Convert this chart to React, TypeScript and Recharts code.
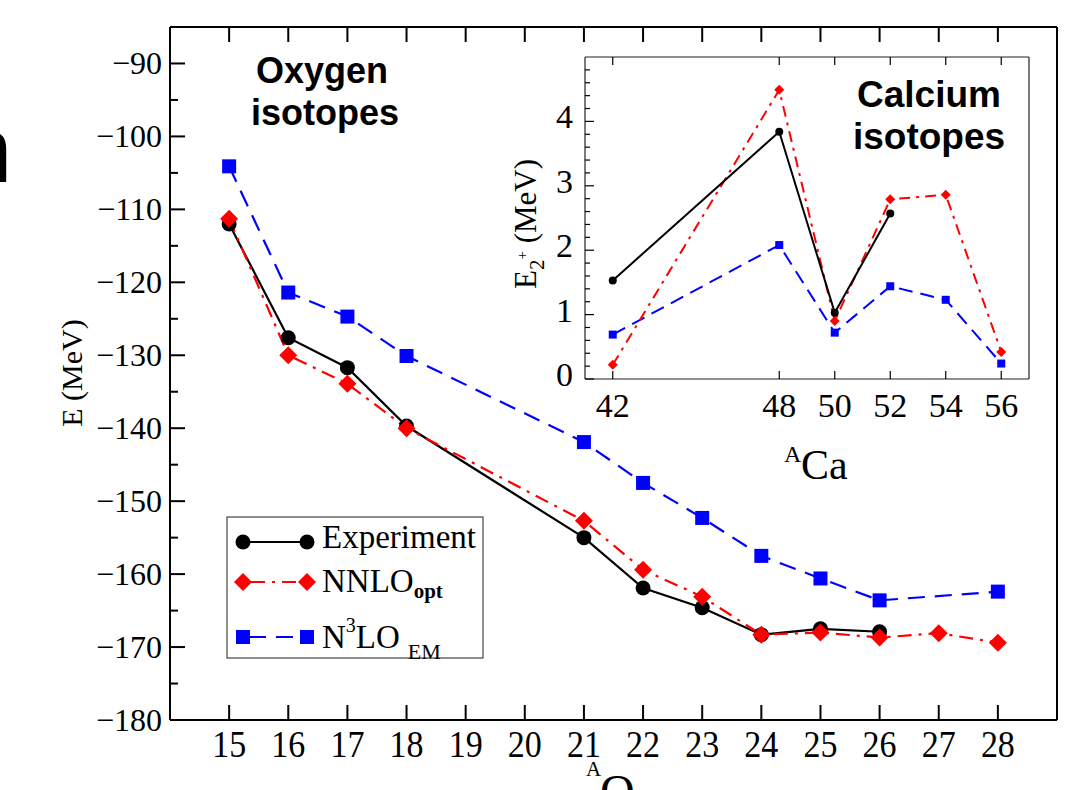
import React from "react";
import { LineChart, Line, XAxis, YAxis } from "recharts";

// ---- oxygen isotopes (main panel), binding energy in MeV ----
const oxygenA = [15, 16, 17, 18, 21, 22, 23, 24, 25, 26, 27, 28];
const oxygenExperiment = [-112.0, -127.6, -131.7, -139.7, -155.0, -161.9, -164.6, -168.3, -167.5, -167.9, null, null];
const oxygenNNLO = [-111.3, -130.0, -133.9, -140.0, -152.7, -159.4, -163.1, -168.3, -168.0, -168.7, -168.1, -169.4];
const oxygenN3LO = [-104.1, -121.4, -124.7, -130.1, -141.9, -147.5, -152.3, -157.5, -160.6, -163.6, null, -162.4];

const oxygenXTicks = [15, 16, 17, 18, 19, 20, 21, 22, 23, 24, 25, 26, 27, 28];
const oxygenYMajor = [-180, -170, -160, -150, -140, -130, -120, -110, -100, -90];
const oxygenYMinor = [-175, -165, -155, -145, -135, -125, -115, -105, -95];

// ---- calcium isotopes (inset), E(2+) in MeV ----
const calciumA = [42, 48, 50, 52, 54, 56];
const calciumExperiment = [1.53, 3.84, 1.03, 2.57, null, null];
const calciumNNLO = [0.22, 4.49, 0.9, 2.79, 2.86, 0.42];
const calciumN3LO = [0.69, 2.08, 0.72, 1.44, 1.23, 0.24];

const calciumXTicks = [42, 48, 50, 52, 54, 56];
const calciumYMajor = [0, 1, 2, 3, 4];
const calciumYMinor = [0.2, 0.4, 0.6, 0.8, 1.2, 1.4, 1.6, 1.8, 2.2, 2.4, 2.6, 2.8, 3.2, 3.4, 3.6, 3.8, 4.2, 4.4, 4.6, 4.8];

const oxygenRows = oxygenA.map((a, i) => ({
  A: a,
  exp: oxygenExperiment[i],
  nnlo: oxygenNNLO[i],
  n3lo: oxygenN3LO[i],
}));

const calciumRows = calciumA.map((a, i) => ({
  A: a,
  exp: calciumExperiment[i],
  nnlo: calciumNNLO[i],
  n3lo: calciumN3LO[i],
}));

const SERIF = "'Liberation Serif', 'Times New Roman', serif";
const SANS = "'Liberation Sans', Arial, sans-serif";
const RED = "#ff0000";
const BLUE = "#0000ff";

const sorted = (a: number[], b: number[]) => [...a, ...b].sort((p, q) => p - q);
const isIn = (v: number, arr: number[]) => arr.some((m) => Math.abs(m - v) < 1e-6);
const fmt = (v: number) => (v < 0 ? "\u2212" + Math.abs(v) : String(v));

type TickSpec = {
  side: "left" | "right" | "top" | "bottom";
  gap: number;
  majors: number[];
  majorLen: number;
  minorLen: number;
  sw: number;
  label?: boolean;
  fontSize?: number;
  dy?: number;
  sy?: number;
};

// ticks drawn inside the frame, labels outside
function tickRenderer(s: TickSpec) {
  return (p: any) => {
    const v = p.payload.value;
    const major = isIn(v, s.majors);
    const len = major ? s.majorLen : s.minorLen;
    const { x, y } = p;
    let line = null;
    let label = null;
    const dy = s.dy ?? 0;
    if (s.side === "left") {
      const ax = x + s.gap;
      line = <line x1={ax} y1={y} x2={ax + len} y2={y} />;
      if (s.label && major)
        label = (
          <text x={x} y={y + dy} textAnchor="end">
            {fmt(v)}
          </text>
        );
    } else if (s.side === "right") {
      const ax = x - s.gap;
      line = <line x1={ax} y1={y} x2={ax - len} y2={y} />;
    } else if (s.side === "bottom") {
      const ay = y - s.gap;
      line = <line x1={x} y1={ay} x2={x} y2={ay - len} />;
      if (s.label && major)
        label = (
          <text transform={`translate(${x},${y + dy}) scale(1,${s.sy ?? 1})`} textAnchor="middle">
            {fmt(v)}
          </text>
        );
    } else {
      const ay = y + s.gap;
      line = <line x1={x} y1={ay} x2={x} y2={ay + len} />;
    }
    return (
      <g>
        <g stroke="#000" strokeWidth={s.sw}>
          {line}
        </g>
        {label && (
          <g fill="#000" fontFamily={SERIF} fontSize={s.fontSize}>
            {label}
          </g>
        )}
      </g>
    );
  };
}

const circleDot = (r: number, fill: string) => (p: any) =>
  p.cx == null || p.cy == null ? null : <circle key={`c${p.index}`} cx={p.cx} cy={p.cy} r={r} fill={fill} />;

const diamondDot = (h: number, fill: string) => (p: any) =>
  p.cx == null || p.cy == null ? null : (
    <polygon
      key={`d${p.index}`}
      points={`${p.cx},${p.cy - h} ${p.cx + h},${p.cy} ${p.cx},${p.cy + h} ${p.cx - h},${p.cy}`}
      fill={fill}
    />
  );

const squareDot = (s: number, fill: string) => (p: any) =>
  p.cx == null || p.cy == null ? null : (
    <rect key={`s${p.index}`} x={p.cx - s / 2} y={p.cy - s / 2} width={s} height={s} fill={fill} />
  );

const frame = { stroke: "#000", strokeWidth: 2 };
const insetFrame = { stroke: "#222", strokeWidth: 1.2 };

function OxygenChart() {
  const yTicks = sorted(oxygenYMajor, oxygenYMinor);
  return (
    <LineChart width={1081} height={790} data={oxygenRows} margin={{ top: 0, right: 0, bottom: 0, left: 0 }}>
      <XAxis
        xAxisId="bottom"
        orientation="bottom"
        dataKey="A"
        type="number"
        domain={[14, 29]}
        ticks={oxygenXTicks}
        interval={0}
        height={70}
        tickSize={0}
        tickMargin={8}
        tickLine={false}
        axisLine={frame}
        tick={tickRenderer({ side: "bottom", gap: 8, majors: oxygenXTicks, majorLen: 15, minorLen: 8, sw: 2, label: true, fontSize: 34, dy: 29, sy: 1.1 })}
      />
      <XAxis
        xAxisId="top"
        orientation="top"
        dataKey="A"
        type="number"
        domain={[14, 29]}
        ticks={oxygenXTicks}
        interval={0}
        height={27}
        tickSize={0}
        tickMargin={0}
        tickLine={false}
        axisLine={frame}
        tick={tickRenderer({ side: "top", gap: 0, majors: oxygenXTicks, majorLen: 15, minorLen: 8, sw: 2 })}
      />
      <YAxis
        yAxisId="left"
        orientation="left"
        type="number"
        domain={[-180, -85]}
        ticks={yTicks}
        interval={0}
        width={170}
        tickSize={0}
        tickMargin={8}
        tickLine={false}
        axisLine={frame}
        tick={tickRenderer({ side: "left", gap: 8, majors: oxygenYMajor, majorLen: 15, minorLen: 8, sw: 2, label: true, fontSize: 32, dy: 11 })}
      />
      <YAxis
        yAxisId="right"
        orientation="right"
        type="number"
        domain={[-180, -85]}
        ticks={yTicks}
        interval={0}
        width={24}
        tickSize={0}
        tickMargin={0}
        tickLine={false}
        axisLine={frame}
        tick={tickRenderer({ side: "right", gap: 0, majors: oxygenYMajor, majorLen: 15, minorLen: 8, sw: 2 })}
      />
      <Line
        xAxisId="bottom"
        yAxisId="left"
        dataKey="n3lo"
        stroke={BLUE}
        strokeWidth={2.2}
        strokeDasharray="17 10"
        connectNulls
        dot={squareDot(14, BLUE)}
        isAnimationActive={false}
      />
      <Line
        xAxisId="bottom"
        yAxisId="left"
        dataKey="exp"
        stroke="#000"
        strokeWidth={2.2}
        connectNulls
        dot={circleDot(7.5, "#000")}
        isAnimationActive={false}
      />
      <Line
        xAxisId="bottom"
        yAxisId="left"
        dataKey="nnlo"
        stroke={RED}
        strokeWidth={2.2}
        strokeDasharray="14 7 3 7"
        connectNulls
        dot={diamondDot(9, RED)}
        isAnimationActive={false}
      />
    </LineChart>
  );
}

function CalciumInset() {
  const yTicks = sorted(calciumYMajor, calciumYMinor);
  return (
    <LineChart width={560} height={449} data={calciumRows} margin={{ top: 0, right: 0, bottom: 0, left: 0 }}>
      <XAxis
        xAxisId="bottom"
        orientation="bottom"
        dataKey="A"
        type="number"
        domain={[41, 57]}
        ticks={calciumXTicks}
        interval={0}
        height={110}
        tickSize={0}
        tickMargin={8}
        tickLine={false}
        axisLine={insetFrame}
        tick={tickRenderer({ side: "bottom", gap: 8, majors: calciumXTicks, majorLen: 8, minorLen: 5, sw: 1.2, label: true, fontSize: 34, dy: 30 })}
      />
      <XAxis
        xAxisId="top"
        orientation="top"
        dataKey="A"
        type="number"
        domain={[41, 57]}
        ticks={calciumXTicks}
        interval={0}
        height={17}
        tickSize={0}
        tickMargin={0}
        tickLine={false}
        axisLine={insetFrame}
        tick={tickRenderer({ side: "top", gap: 0, majors: calciumXTicks, majorLen: 8, minorLen: 5, sw: 1.2 })}
      />
      <YAxis
        yAxisId="left"
        orientation="left"
        type="number"
        domain={[0, 5]}
        ticks={yTicks}
        interval={0}
        width={95}
        tickSize={0}
        tickMargin={12}
        tickLine={false}
        axisLine={insetFrame}
        tick={tickRenderer({ side: "left", gap: 12, majors: calciumYMajor, majorLen: 9, minorLen: 5, sw: 1.2, label: true, fontSize: 34, dy: 7 })}
      />
      <YAxis
        yAxisId="right"
        orientation="right"
        type="number"
        domain={[0, 5]}
        ticks={yTicks}
        interval={0}
        width={21}
        tickSize={0}
        tickMargin={0}
        tickLine={false}
        axisLine={insetFrame}
        tick={tickRenderer({ side: "right", gap: 0, majors: calciumYMajor, majorLen: 9, minorLen: 5, sw: 1.2 })}
      />
      <Line
        xAxisId="bottom"
        yAxisId="left"
        dataKey="n3lo"
        stroke={BLUE}
        strokeWidth={2}
        strokeDasharray="14 8"
        connectNulls
        dot={squareDot(8, BLUE)}
        isAnimationActive={false}
      />
      <Line
        xAxisId="bottom"
        yAxisId="left"
        dataKey="nnlo"
        stroke={RED}
        strokeWidth={2}
        strokeDasharray="11 6 3 6"
        connectNulls
        dot={diamondDot(5, RED)}
        isAnimationActive={false}
      />
      <Line
        xAxisId="bottom"
        yAxisId="left"
        dataKey="exp"
        stroke="#000"
        strokeWidth={2}
        connectNulls
        dot={circleDot(4, "#000")}
        isAnimationActive={false}
      />
    </LineChart>
  );
}

function Annotations() {
  return (
    <svg width={1081} height={790} style={{ position: "absolute", left: 0, top: 0, pointerEvents: "none" }}>
      {/* piece of a letter cut off at the left edge of the original figure */}
      <text x={-39} y={182} fontFamily={SANS} fontSize={92}>
        n
      </text>

      <g fontFamily={SANS} fontWeight="bold" fill="#000" textAnchor="middle">
        <text x={322} y={83} fontSize={36}>Oxygen</text>
        <text x={325} y={125} fontSize={36}>isotopes</text>
        <text x={929} y={107} fontSize={37}>Calcium</text>
        <text x={929} y={149} fontSize={37}>isotopes</text>
      </g>

      <g fontFamily={SERIF} fill="#000">
        <text transform="translate(82,373) rotate(-90)" textAnchor="middle" fontSize={30}>
          E (MeV)
        </text>
        <text x={586} y={776} fontSize={21}>A</text>
        <text x={600} y={808} fontSize={48}>O</text>

        <text transform="translate(536,224) rotate(-90)" textAnchor="middle" fontSize={31}>
          E<tspan fontSize={21} dy={8}>2</tspan>
          <tspan fontSize={15} dy={-17}>+</tspan>
          <tspan fontSize={31} dy={9}> (MeV)</tspan>
        </text>
        <text x={784} y={462} fontSize={24}>A</text>
        <text x={801} y={479} fontSize={42}>Ca</text>
      </g>

      {/* legend */}
      <rect x={227} y={517} width={256} height={141} fill="#fff" stroke="#444" strokeWidth={1.2} />
      <line x1={243} y1={542} x2={307} y2={542} stroke="#000" strokeWidth={2.2} />
      <circle cx={243} cy={542} r={7.5} fill="#000" />
      <circle cx={307} cy={542} r={7.5} fill="#000" />
      <line x1={243} y1={582} x2={307} y2={582} stroke={RED} strokeWidth={2.2} strokeDasharray="14 7 3 7" strokeDashoffset={-8} />
      <polygon points="243,573 252,582 243,591 234,582" fill={RED} />
      <polygon points="307,573 316,582 307,591 298,582" fill={RED} />
      <line x1={243} y1={637} x2={307} y2={637} stroke={BLUE} strokeWidth={2.2} strokeDasharray="17 10" strokeDashoffset={-6} />
      <rect x={236} y={630} width={14} height={14} fill={BLUE} />
      <rect x={300} y={630} width={14} height={14} fill={BLUE} />
      <g fontFamily={SERIF} fill="#000">
        <text x={322} y={548} fontSize={33}>Experiment</text>
        <text x={322} y={592} fontSize={33}>
          NNLO<tspan fontSize={21} fontWeight="bold" dy={6}>opt</tspan>
        </text>
        <text x={322} y={648} fontSize={33}>
          N<tspan fontSize={20} dy={-16}>3</tspan>
          <tspan dy={16}>LO</tspan>
          <tspan fontSize={22} dx={8} dy={11}>EM</tspan>
        </text>
      </g>
    </svg>
  );
}

export default function App() {
  return (
    <div style={{ position: "absolute", left: 0, top: 0, width: 1081, height: 790, background: "#fff", overflow: "hidden" }}>
      <div style={{ position: "absolute", left: 0, top: 0 }}>
        <OxygenChart />
      </div>
      <div style={{ position: "absolute", left: 490, top: 40 }}>
        <CalciumInset />
      </div>
      <Annotations />
    </div>
  );
}
